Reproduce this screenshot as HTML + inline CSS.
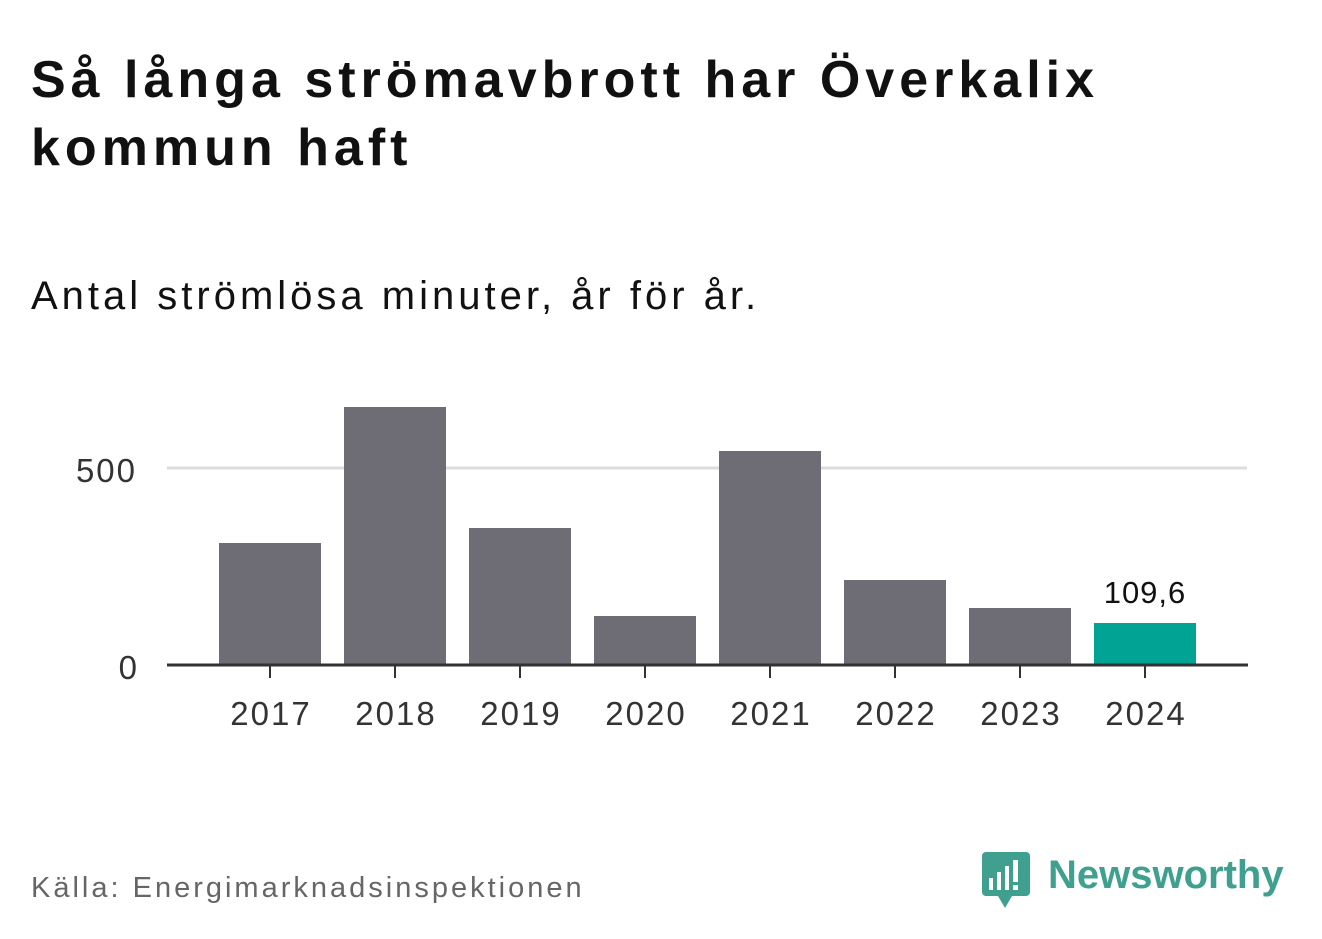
<!DOCTYPE html>
<html><head><meta charset="utf-8"><style>
html,body{margin:0;padding:0;background:#fff;}
body{width:1322px;height:939px;position:relative;overflow:hidden;font-family:"Liberation Sans",sans-serif;}
.t{position:absolute;left:31px;top:46px;font-size:52px;font-weight:bold;line-height:68px;color:#111;letter-spacing:5px;}
.s{position:absolute;left:31px;top:274px;font-size:40px;color:#111;letter-spacing:4px;}
.src{position:absolute;left:31px;top:872px;font-size:29px;color:#666;letter-spacing:3px;}
</style></head><body>
<div class="t">Så långa strömavbrott har Överkalix<br>kommun haft</div>
<div class="s">Antal strömlösa minuter, år för år.</div>
<svg width="1322" height="939" style="position:absolute;left:0;top:0" font-family="Liberation Sans, sans-serif">
<line x1="167" y1="468" x2="1247" y2="468" stroke="#ddd" stroke-width="3"/>
<text x="137" y="482" font-size="33" fill="#333" text-anchor="end" letter-spacing="2">500</text>
<text x="137" y="679" font-size="33" fill="#333" text-anchor="end">0</text>
<g fill="#6e6d75">
<rect x="219" y="543" width="102" height="122"/>
<rect x="344" y="407" width="102" height="258"/>
<rect x="469" y="528" width="102" height="137"/>
<rect x="594" y="616" width="102" height="49"/>
<rect x="719" y="451" width="102" height="214"/>
<rect x="844" y="580" width="102" height="85"/>
<rect x="969" y="608" width="102" height="57"/>
</g>
<rect x="1094" y="623" width="102" height="42" fill="#00a394"/>
<text x="1145" y="603" font-size="31" fill="#111" text-anchor="middle" letter-spacing="1">109,6</text>
<line x1="167" y1="665" x2="1248" y2="665" stroke="#333" stroke-width="3"/>
<g stroke="#333" stroke-width="2">
<line x1="270" y1="665" x2="270" y2="678"/><line x1="395" y1="665" x2="395" y2="678"/>
<line x1="520" y1="665" x2="520" y2="678"/><line x1="645" y1="665" x2="645" y2="678"/>
<line x1="770" y1="665" x2="770" y2="678"/><line x1="895" y1="665" x2="895" y2="678"/>
<line x1="1020" y1="665" x2="1020" y2="678"/><line x1="1145" y1="665" x2="1145" y2="678"/>
</g>
<g font-size="33" fill="#333" text-anchor="middle" letter-spacing="2">
<text x="271" y="725">2017</text><text x="396" y="725">2018</text><text x="521" y="725">2019</text>
<text x="646" y="725">2020</text><text x="771" y="725">2021</text><text x="896" y="725">2022</text>
<text x="1021" y="725">2023</text><text x="1146" y="725">2024</text>
</g>
<g>
<rect x="982" y="852" width="48" height="44" rx="4" fill="#3fa08f"/>
<polygon points="998,896 1012,896 1005,908" fill="#3fa08f"/>
<g fill="#fff"><rect x="989" y="878" width="4" height="12"/><rect x="997" y="872" width="4" height="18"/><rect x="1005" y="866" width="4" height="24"/><rect x="1013" y="860" width="5" height="22"/><rect x="1013" y="885" width="5" height="5"/></g>
<text x="1048" y="888" font-size="40" font-weight="bold" fill="#3fa08f">Newsworthy</text>
</g>
</svg>
<div class="src">Källa: Energimarknadsinspektionen</div>
</body></html>
